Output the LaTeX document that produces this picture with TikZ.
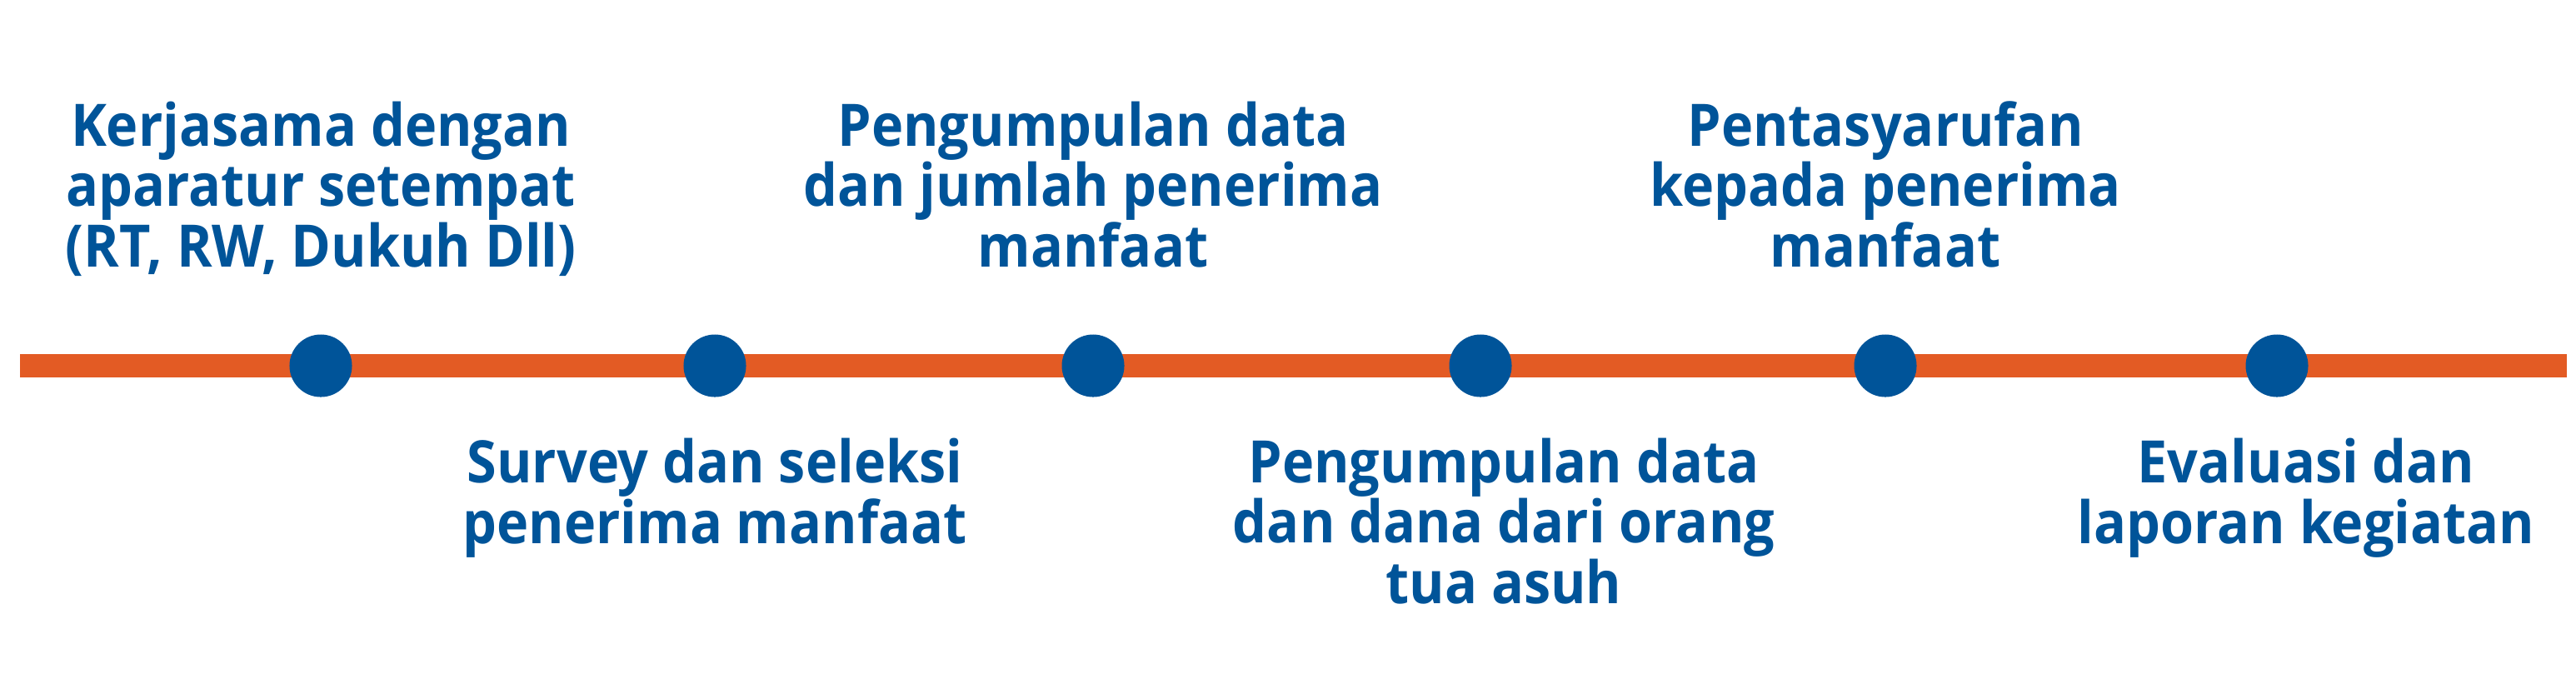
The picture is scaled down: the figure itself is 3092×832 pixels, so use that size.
\documentclass[tikz,border=0pt]{standalone}
\usepackage{fontspec}
\setmainfont{Open Sans}[FakeStretch=0.92]
\usetikzlibrary{backgrounds}
\definecolor{stepblue}{RGB}{0,84,153}
\definecolor{lineorange}{RGB}{227,91,36}
\begin{document}
\begin{tikzpicture}[x=0.01cm,y=-0.01cm,
    dot/.style={circle,fill=stepblue,inner sep=0pt,minimum size=0.75cm},
    steptext/.style={text=stepblue,font=\fontsize{20}{20.5}\selectfont\bfseries,
      align=center,inner sep=0pt,anchor=base},
    timeline/.style={draw=lineorange,line width=0.28cm}]
      \useasboundingbox (0,0) rectangle (3092,832);
      \draw
        (385,439) node[dot] (1){}
        (858,439) node[dot] (2){}
        (1312,439) node[dot] (3){}
        (1777,439) node[dot] (4){}
        (2263,439) node[dot] (5){}
        (2733,439) node[dot] (6){};
      \draw
        (385,320) node[steptext] (t1){Kerjasama dengan\\aparatur setempat\\(RT, RW, Dukuh Dll)}
        (858,652) node[steptext] (t2){Survey dan seleksi\\penerima manfaat}
        (1312,320) node[steptext] (t3){Pengumpulan data\\dan jumlah penerima\\manfaat}
        (1805,724) node[steptext] (t4){Pengumpulan data\\dan dana dari orang\\tua asuh}
        (2263,320) node[steptext] (t5){Pentasyarufan\\kepada penerima\\manfaat}
        (2768,652) node[steptext] (t6){Evaluasi dan\\laporan kegiatan};
      \coordinate (s) at (24,439);
      \coordinate (e) at (3081,439);
      \begin{scope}[on background layer]
        \draw[timeline] (s) -- (1.center) -- (2.center) -- (3.center)
          -- (4.center) -- (5.center) -- (6.center) -- (e);
      \end{scope}
    \end{tikzpicture}
\end{document}
